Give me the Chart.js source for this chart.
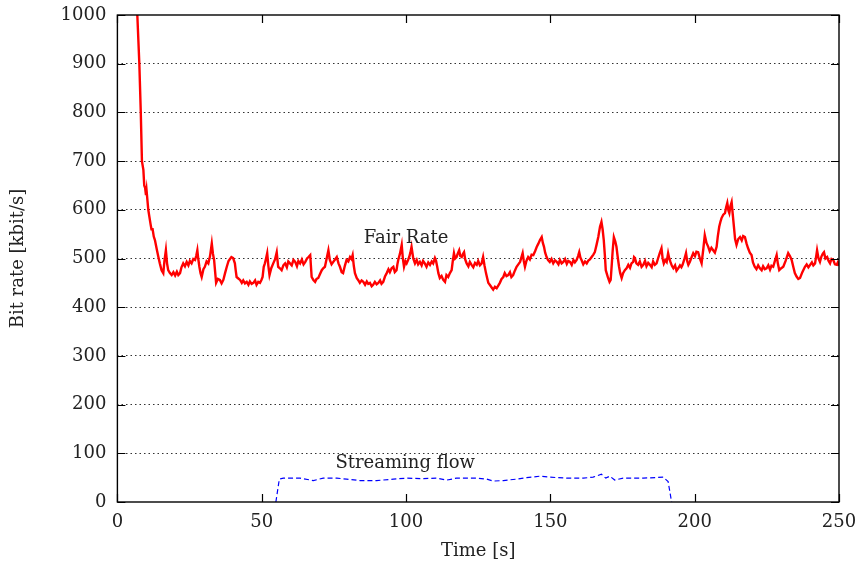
<!DOCTYPE html>
<html>
<head>
<meta charset="utf-8">
<script src="https://cdn.jsdelivr.net/npm/chart.js@4/dist/chart.umd.min.js"></script>
<style>
  html,body{margin:0;padding:0;background:#fff;}
  #wrap{width:861px;height:565px;position:relative;}
</style>
</head>
<body>
<div id="wrap"><canvas id="c" width="861" height="565"></canvas></div>
<script>
// ---- data: [time s, kbit/s] ----
const fairRateSamples = [
[5.5,1150],[6.9,1000],[7.6,900],[8.1,800],[8.5,700],[9.0,682],[9.3,650],[9.6,645],[9.9,630],[10.1,640],[10.7,600],[11.1,585],[11.5,570],[11.8,560],[12.2,560],[12.6,545],
[13.0,538],[13.6,520],[14.2,503],[14.7,490],[15.3,476],[15.9,470],[16.3,495],[16.8,517],[17.2,490],[17.6,476],[18.2,470],[18.8,466],[19.4,472],[20.0,465],[20.6,473],[21.1,466],[21.7,470],[22.2,482],[22.8,490],[23.4,484],[24.0,493],[24.6,486],[25.1,495],[25.7,490],[26.3,499],[26.9,497],[27.3,505],[27.7,517],[28.0,500],[28.4,483],[28.8,470],[29.2,462],[29.8,478],[30.3,483],[30.9,494],[31.5,490],[32.1,505],[32.7,531],[33.1,510],[33.5,497],[33.9,470],[34.2,450],[34.8,458],[35.5,456],[36.1,449],[36.7,456],[37.3,470],[37.9,483],[38.5,495],[39.0,499],[39.5,503],[40.1,501],[40.7,490],[41.0,475],[41.3,462],[41.9,459],[42.5,456],[43.1,450],[43.6,455],[44.2,449],[44.8,452],[45.4,446],[45.9,453],[46.5,448],[47.1,450],[47.7,455],[48.2,446],[48.8,452],[49.4,450],[49.9,456],
[50.3,462],[50.7,483],[51.1,490],[51.5,500],[51.9,511],[52.3,485],[52.7,466],[53.3,480],[54.0,490],[54.6,498],[55.2,513],[55.7,483],[56.3,480],[56.9,476],[57.5,486],[58.1,490],[58.7,482],[59.2,494],[59.8,490],[60.4,486],[61.0,497],[61.6,493],[62.2,484],[62.7,495],[63.3,490],[63.9,498],[64.5,488],[65.1,493],[65.7,500],[66.2,503],[66.8,507],[67.3,462],[67.9,456],[68.5,452],[69.0,458],[69.6,460],[70.2,468],[70.8,476],[71.3,480],[71.9,483],[72.5,500],[73.1,517],[73.6,497],[74.2,488],[74.8,493],[75.4,498],[76.0,503],[76.6,490],[77.1,483],[77.7,472],[78.2,470],[78.8,485],[79.4,497],[80.0,494],[80.6,503],[81.1,499],[81.5,507],[81.9,485],[82.3,470],[82.9,460],[83.4,456],[84.0,450],[84.6,455],[85.2,452],[85.8,446],[86.4,453],[86.9,448],[87.5,450],[88.1,443],[88.6,446],[89.2,452],[89.8,447],[90.4,450],[91.0,455],[91.5,448],[92.1,452],[92.7,463],[93.3,470],[93.9,478],[94.4,472],[95.0,480],[95.6,483],[96.1,472],[96.7,476],[97.0,488],[97.3,497],[97.9,510],[98.5,528],[98.9,500],[99.3,483],[99.8,494],
[100.2,490],[100.7,497],[101.1,503],[101.5,512],[101.9,524],[102.5,500],[103.1,490],[103.7,497],[104.2,488],[104.8,493],[105.4,486],[105.9,495],[106.5,490],[107.1,483],[107.7,492],[108.3,487],[108.9,494],[109.4,490],[110.0,501],[110.4,495],[110.8,483],[111.2,470],[111.7,460],[112.3,464],[112.9,456],[113.5,452],[114.0,466],[114.6,462],[115.2,470],[115.8,476],[116.2,495],[116.6,511],[117.0,500],[117.5,503],[117.9,510],[118.4,517],[118.8,505],[119.3,503],[119.7,509],[120.1,513],[120.5,498],[121.0,490],[121.6,484],[122.1,493],[122.7,487],[123.3,482],[123.9,491],[124.5,487],[125.0,495],[125.6,486],[126.2,490],[126.7,503],[127.2,485],[127.7,470],[128.1,460],[128.5,450],[129.0,446],[129.6,441],[130.2,436],[130.8,442],[131.4,439],[132.0,445],[132.5,450],[133.1,458],[133.7,462],[134.2,470],[134.8,464],[135.4,466],[136.0,472],[136.5,462],[137.1,466],[137.7,475],[138.3,483],[138.9,488],[139.5,493],[140.0,503],[140.4,511],[140.8,495],[141.2,483],[141.7,495],[142.3,503],[142.9,498],[143.5,508],[144.1,507],[144.7,515],[145.3,524],[145.8,530],[146.4,538],[147.0,544],[147.4,532],[147.8,524],[148.2,512],[148.7,503],[149.2,497],[149.8,493],
[150.4,499],[151.0,490],[151.6,496],[152.2,493],[152.8,488],[153.3,497],[153.9,490],[154.5,493],[155.1,499],[155.7,489],[156.2,495],[156.8,493],[157.4,487],[158.0,497],[158.5,492],[159.1,497],[159.6,505],[160.0,513],[160.4,502],[160.8,497],[161.4,488],[162.0,494],[162.6,490],[163.2,496],[163.7,498],[164.3,503],[164.9,508],[165.4,513],[166.0,528],[166.6,544],[167.2,565],[167.7,575],[168.1,560],[168.5,538],[168.9,505],[169.2,476],[169.6,468],[170.0,460],[170.5,452],[170.9,456],[171.3,490],[171.6,517],[172.0,544],[172.5,535],[172.9,524],[173.4,500],[173.8,483],[174.2,470],[174.7,460],[175.2,470],[175.8,476],[176.4,480],[177.0,487],[177.6,481],[178.1,490],[178.7,493],[179.0,503],[179.3,501],[179.8,490],[180.4,487],[181.0,494],[181.6,483],[182.2,487],[182.8,495],[183.3,484],[183.9,491],[184.5,487],[185.1,482],[185.6,494],[186.2,487],[186.8,490],[187.3,500],[187.9,511],[188.5,521],[188.9,500],[189.3,490],[189.8,497],[190.3,493],[190.8,511],[191.2,500],[191.6,493],[192.1,485],[192.6,480],[193.2,486],[193.7,475],[194.3,480],[194.9,486],[195.4,482],[195.8,487],[196.4,498],[197.0,511],[197.4,495],[197.8,487],[198.3,493],[198.9,502],[199.5,511],
[200.1,505],[200.6,514],[201.2,513],[201.8,500],[202.4,490],[203.0,520],[203.5,548],[204.1,532],[204.7,524],[205.2,515],[205.8,522],[206.4,517],[207.0,512],[207.6,524],[208.0,545],[208.5,565],[208.9,575],[209.3,583],[209.9,590],[210.5,593],[210.9,605],[211.3,614],[211.7,598],[212.0,593],[212.4,608],[212.8,616],[213.2,590],[213.6,565],[214.0,540],[214.5,528],[215.1,540],[215.7,544],[216.3,537],[216.8,546],[217.4,544],[218.0,530],[218.5,521],[219.1,512],[219.7,507],[220.2,492],[220.8,483],[221.4,478],[222.0,486],[222.6,480],[223.2,476],[223.7,484],[224.3,478],[224.9,480],[225.5,486],[226.1,477],[226.6,485],[227.2,483],[227.8,495],[228.4,507],[228.8,490],[229.3,476],[230.0,480],[230.7,483],[231.5,495],[232.4,511],[233.0,505],[233.6,497],[234.2,482],[234.7,470],[235.3,463],[235.9,458],[236.5,460],[237.3,472],[238.2,483],[238.8,488],[239.4,482],[240.0,487],[240.6,492],[241.1,486],[241.7,490],[242.1,505],[242.4,517],[242.9,500],[243.4,493],[243.9,504],[244.4,510],[244.8,513],[245.3,500],[245.9,503],[246.4,495],[246.9,490],[247.4,499],[248.0,497],[248.6,488],[249.2,487],[249.6,492],[250.0,485]
];

const streamTime = [54.9,56.1,57.5,63.3,67.9,71.3,76.0,79.4,84.0,89.8,95.6,100.2,106.0,110.6,114.1,117.5,124.5,127.9,130.2,133.7,138.3,141.8,146.4,149.8,155.6,161.4,164.8,167.7,169.2,170.6,172.3,175.2,182.2,189.1,190.8,192.0];
const streamRate = [0,47,49,49,44,49,49,47,44,44,47,49,48,49,45,49,49,47,43,44,47,50,53,51,49,49,51,57,49,53,45,49,49,51,42,0];

const xTicks = [0,50,100,150,200,250];
const yTicks = [0,100,200,300,400,500,600,700,800,900,1000];

const seriesNames = ['Fair Rate','Streaming flow'];
const labelPos = [{x:100,y:542},{x:99.7,y:80}];
const axisTitles = {x:'Time [s]', y:'Bit rate [kbit/s]'};

// ---- chart ----
const FONT = 'DejaVu Serif';
const TXT = '#222';
Chart.defaults.font.family = FONT;
Chart.defaults.font.size = 18;
Chart.defaults.color = TXT;

const fairData = fairRateSamples.map(p=>({x:p[0],y:p[1]}));
const streamData = streamTime.map((t,i)=>({x:t,y:streamRate[i]}));

const framePlugin = {
  id:'frame',
  afterDatasetsDraw(chart){
    const {ctx, chartArea:a, scales:{x,y}} = chart;
    ctx.save();
    ctx.strokeStyle = '#000';
    ctx.lineWidth = 1.4;
    ctx.setLineDash([]);
    ctx.strokeRect(a.left, a.top, a.right-a.left, a.bottom-a.top);
    const L = 8;
    ctx.lineWidth = 1.2;
    ctx.beginPath();
    yTicks.forEach(v=>{
      const py = Math.round(y.getPixelForValue(v))+0.5;
      ctx.moveTo(a.left, py); ctx.lineTo(a.left+L, py);
      ctx.moveTo(a.right, py); ctx.lineTo(a.right-L, py);
    });
    xTicks.forEach(v=>{
      const px = Math.round(x.getPixelForValue(v))+0.5;
      ctx.moveTo(px, a.bottom); ctx.lineTo(px, a.bottom-L);
      ctx.moveTo(px, a.top); ctx.lineTo(px, a.top+L);
    });
    ctx.stroke();
    // series labels
    ctx.fillStyle = TXT;
    ctx.font = '18px "'+FONT+'"';
    ctx.textAlign = 'center';
    ctx.textBaseline = 'middle';
    labelPos.forEach((p,i)=>{
      ctx.fillText(seriesNames[i], x.getPixelForValue(p.x), y.getPixelForValue(p.y));
    });
    ctx.restore();
  }
};

new Chart(document.getElementById('c'), {
  type:'line',
  data:{
    datasets:[
      {label:seriesNames[0], data:fairData, borderColor:'#ff0000', borderWidth:2.4, pointRadius:0, tension:0, fill:false},
      {label:seriesNames[1], data:streamData, borderColor:'#0000ff', borderWidth:1.2, borderDash:[5,3], pointRadius:0, tension:0, fill:false}
    ]
  },
  options:{
    responsive:false,
    animation:false,
    devicePixelRatio:1,
    layout:{padding:{left:0,top:15,right:22,bottom:0}},
    plugins:{legend:{display:false}, tooltip:{enabled:false}},
    scales:{
      x:{
        type:'linear', min:0, max:250,
        afterBuildTicks(s){ s.ticks = xTicks.map(v=>({value:v})); },
        afterFit(s){ s.height = 63; s.paddingLeft = 0; s.paddingRight = 0; },
        grid:{display:false, drawTicks:false},
        border:{display:false},
        ticks:{padding:10, color:TXT, maxRotation:0, autoSkip:false, callback:(v)=>String(v)},
        title:{display:true, text:axisTitles.x, color:TXT, padding:{top:0,bottom:3}}
      },
      y:{
        type:'linear', min:0, max:1000,
        afterBuildTicks(s){ s.ticks = yTicks.map(v=>({value:v})); },
        afterFit(s){ s.width = 117.4; s.paddingTop = 0; s.paddingBottom = 0; },
        grid:{drawTicks:false, lineWidth:1,
          color:(c)=> (c.tick && (c.tick.value===0 || c.tick.value===1000)) ? 'rgba(0,0,0,0)' : '#333'},
        border:{display:false, dash:[1.5,3]},
        ticks:{padding:11, color:TXT, autoSkip:false, callback:(v)=>String(v)},
        title:{display:true, text:axisTitles.y, color:TXT, padding:{top:8,bottom:0}}
      }
    }
  },
  plugins:[framePlugin]
});
</script>
</body>
</html>
